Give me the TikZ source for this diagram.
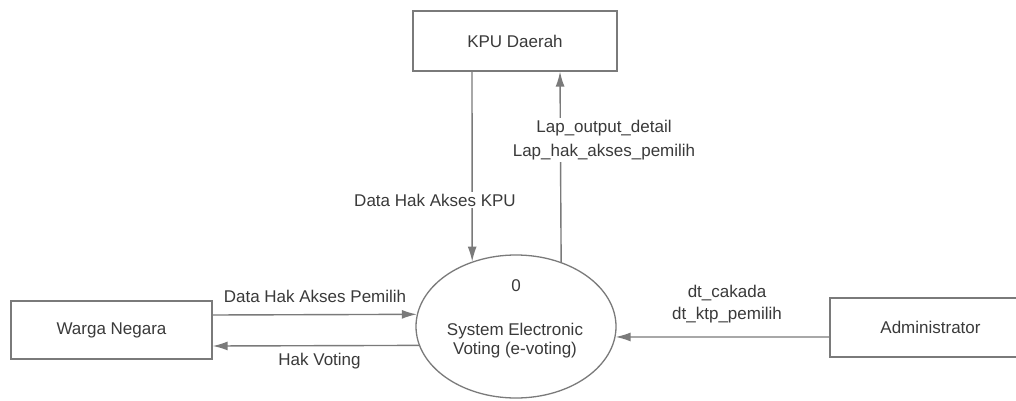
\documentclass[tikz,border=0pt]{standalone}
\usepackage{fontspec}
\setmainfont{Liberation Sans}
\usetikzlibrary{arrows.meta,shapes.geometric,calc}
\definecolor{linegray}{HTML}{7A7A7A}
\definecolor{textgray}{HTML}{3A3A3A}
\begin{document}
\begin{tikzpicture}[x=1pt,y=-1pt,
  every node/.style={font=\fontsize{17}{19}\selectfont, text=textgray},
  entity/.style={draw=linegray, line width=1.3pt, minimum width=201pt, minimum height=59pt, inner sep=0pt},
  process/.style={ellipse, draw=linegray, line width=1.3pt, minimum width=200pt, minimum height=143pt, inner sep=0pt},
  flow/.style={draw=linegray, line width=1.4pt, -{Latex[length=15pt,width=9pt]}},
  flowlabel/.style={fill=white, inner sep=2pt, align=center}
]
\useasboundingbox (0,0) rectangle (1016,401);
\clip (0,0) rectangle (1016,401);
\fill[white] (0,0) rectangle (1016,401);

% external entities and the process
\node[entity, minimum width=204pt, minimum height=60pt] (kpu) at (515,41) {KPU Daerah};
\node[entity, minimum height=58pt] (warga) at (111.5,330) {Warga Negara};
\node[entity] (adm) at (930.5,327.5) {Administrator};
\node[process] (sys) at (516,326.5) {};
\node (num) at (516,286) {0};
\node[align=center] (sysname) at (515,340.5) {System Electronic\\Voting (e-voting)};

% data flows
\draw[flow] ($(kpu.south)+(-43,0)$) -- (sys.124.4);
\draw[flow] (sys.55.6) -- ($(kpu.south)+(45,0)$);
\draw[flow] ($(warga.east)+(0,-15)$) -- (sys.173.4);
\draw[flow] (sys.191.5) -- ($(warga.east)+(0,16)$);
\draw[flow] ($(adm.west)+(0,9.5)$) -- (sys.-6.06);

% flow labels
\node[flowlabel] (lkpu) at (435,200) {Data Hak Akses KPU};
\node[flowlabel, font=\fontsize{17}{24}\selectfont] (llap) at (604,140) {Lap\_output\_detail\\Lap\_hak\_akses\_pemilih};
\node[flowlabel] (lpem) at (315,296) {Data Hak Akses Pemilih};
\node[flowlabel] (lvot) at (319.5,361) {Hak Voting};
\node[flowlabel, font=\fontsize{17}{22}\selectfont] (ladm) at (727,304) {dt\_cakada\\dt\_ktp\_pemilih};
\end{tikzpicture}
\end{document}
